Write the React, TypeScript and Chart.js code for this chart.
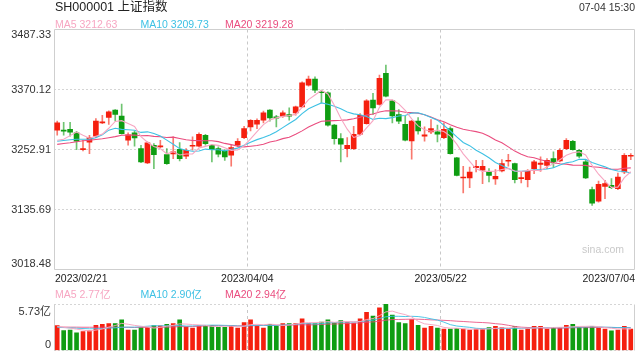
import React, { useEffect, useRef } from 'react';
import { Chart, registerables } from 'chart.js';

Chart.register(...registerables);

// ---------------- data ----------------
const dates = [
  '2023/02/21', '2023/02/22', '2023/02/23', '2023/02/24', '2023/02/27', '2023/02/28',
  '2023/03/01', '2023/03/02', '2023/03/03', '2023/03/06', '2023/03/07', '2023/03/08', '2023/03/09', '2023/03/10',
  '2023/03/13', '2023/03/14', '2023/03/15', '2023/03/16', '2023/03/17', '2023/03/20', '2023/03/21', '2023/03/22',
  '2023/03/23', '2023/03/24', '2023/03/27', '2023/03/28', '2023/03/29', '2023/03/30', '2023/03/31',
  '2023/04/03', '2023/04/04', '2023/04/06', '2023/04/07', '2023/04/10', '2023/04/11', '2023/04/12', '2023/04/13',
  '2023/04/14', '2023/04/17', '2023/04/18', '2023/04/19', '2023/04/20', '2023/04/21', '2023/04/24', '2023/04/25',
  '2023/04/26', '2023/04/27', '2023/04/28',
  '2023/05/04', '2023/05/05', '2023/05/08', '2023/05/09', '2023/05/10', '2023/05/11', '2023/05/12', '2023/05/15',
  '2023/05/16', '2023/05/17', '2023/05/18', '2023/05/19', '2023/05/22', '2023/05/23', '2023/05/24', '2023/05/25',
  '2023/05/26', '2023/05/29', '2023/05/30', '2023/05/31',
  '2023/06/01', '2023/06/02', '2023/06/05', '2023/06/06', '2023/06/07', '2023/06/08', '2023/06/09', '2023/06/12',
  '2023/06/13', '2023/06/14', '2023/06/15', '2023/06/16', '2023/06/19', '2023/06/20', '2023/06/21', '2023/06/26',
  '2023/06/27', '2023/06/28', '2023/06/29', '2023/06/30',
  '2023/07/03', '2023/07/04',
];

const opens = [
  3290.6, 3290.6, 3292.5, 3285.3, 3252.7, 3267.1, 3278.8, 3305.0, 3315.4, 3329.7,
  3318.0, 3271.0, 3285.3, 3254.7, 3226.6, 3261.2, 3257.9, 3242.9, 3244.3, 3253.4,
  3239.7, 3259.3, 3259.3, 3280.8, 3261.2, 3254.7, 3250.1, 3241.6, 3261.2, 3276.2,
  3297.1, 3302.3, 3310.1, 3329.7, 3316.7, 3318.0, 3321.3, 3324.5, 3336.2, 3378.7,
  3390.4, 3365.6, 3363.7, 3300.4, 3274.3, 3254.7, 3254.7, 3282.7, 3303.6, 3349.3,
  3340.8, 3401.5, 3348.0, 3321.3, 3302.3, 3269.7, 3308.2, 3278.8, 3287.3, 3287.3,
  3276.2, 3293.8, 3236.4, 3197.3, 3197.3, 3217.5, 3212.3, 3210.3, 3195.3, 3210.9,
  3229.9, 3225.3, 3195.9, 3194.0, 3215.5, 3224.0, 3222.0, 3235.1, 3230.5, 3254.7,
  3269.0, 3251.4, 3228.6, 3174.4, 3152.2, 3180.9, 3182.9, 3176.4, 3209.0, 3239.7,
];
const highs = [
  3308.2, 3306.2, 3306.2, 3288.6, 3271.0, 3280.8, 3313.4, 3319.9, 3328.4, 3331.0,
  3341.5, 3285.3, 3289.3, 3261.2, 3267.7, 3264.5, 3271.0, 3254.7, 3277.5, 3266.4,
  3254.7, 3277.5, 3285.3, 3282.7, 3263.2, 3257.9, 3252.7, 3261.2, 3274.3, 3298.4,
  3311.4, 3312.7, 3327.8, 3331.0, 3319.9, 3328.4, 3334.3, 3337.6, 3385.2, 3396.3,
  3395.0, 3368.9, 3365.6, 3302.3, 3284.0, 3276.2, 3298.4, 3323.2, 3350.6, 3362.4,
  3398.3, 3417.8, 3349.3, 3331.0, 3318.0, 3310.1, 3315.4, 3297.1, 3311.4, 3300.4,
  3304.9, 3297.1, 3237.7, 3220.1, 3218.8, 3231.8, 3231.8, 3215.5, 3213.6, 3233.1,
  3243.6, 3226.6, 3209.0, 3213.6, 3231.8, 3238.4, 3235.1, 3248.2, 3254.7, 3274.3,
  3271.0, 3252.7, 3233.1, 3179.6, 3191.4, 3192.7, 3195.9, 3207.0, 3244.9, 3244.9,
];
const lows = [
  3280.8, 3280.8, 3278.8, 3252.7, 3250.1, 3244.9, 3276.2, 3303.6, 3301.7, 3308.8,
  3282.7, 3261.2, 3259.3, 3227.0, 3225.3, 3215.5, 3256.6, 3224.0, 3235.1, 3230.5,
  3235.1, 3251.4, 3257.9, 3261.2, 3228.6, 3238.4, 3231.8, 3220.1, 3257.9, 3274.3,
  3289.3, 3293.8, 3305.0, 3308.2, 3297.1, 3315.4, 3310.1, 3319.9, 3334.9, 3376.7,
  3363.7, 3344.1, 3298.4, 3263.2, 3228.6, 3238.4, 3252.7, 3280.8, 3302.3, 3321.3,
  3339.5, 3355.8, 3305.0, 3303.6, 3269.7, 3233.8, 3282.7, 3269.0, 3284.0, 3267.7,
  3274.3, 3243.6, 3201.2, 3167.9, 3178.3, 3209.0, 3186.1, 3189.4, 3184.8, 3209.0,
  3220.1, 3187.4, 3187.4, 3179.6, 3205.7, 3210.3, 3215.5, 3217.5, 3228.6, 3252.7,
  3251.4, 3236.4, 3195.9, 3143.7, 3150.2, 3156.8, 3176.4, 3174.4, 3205.7, 3233.1,
];
const closes = [
  3304.9, 3288.6, 3286.6, 3269.0, 3254.7, 3276.2, 3308.2, 3306.5, 3326.5, 3321.3,
  3284.0, 3281.4, 3275.6, 3228.6, 3265.8, 3242.9, 3259.9, 3225.3, 3248.2, 3235.1,
  3251.4, 3261.2, 3282.7, 3264.5, 3252.7, 3243.6, 3238.4, 3256.6, 3269.0, 3293.8,
  3310.1, 3310.1, 3324.5, 3314.7, 3314.1, 3324.5, 3318.0, 3336.2, 3383.2, 3390.4,
  3368.9, 3363.7, 3300.4, 3274.3, 3263.2, 3261.2, 3282.7, 3319.9, 3348.0, 3334.3,
  3391.7, 3357.1, 3318.6, 3308.2, 3271.0, 3308.2, 3289.3, 3281.4, 3293.8, 3282.7,
  3292.5, 3244.9, 3202.5, 3199.2, 3209.0, 3220.1, 3220.1, 3202.5, 3200.5, 3225.3,
  3231.8, 3194.0, 3197.9, 3210.3, 3228.6, 3226.6, 3231.8, 3226.6, 3251.4, 3271.0,
  3252.7, 3239.7, 3197.3, 3148.3, 3184.8, 3186.1, 3178.3, 3199.2, 3241.6, 3241.6,
];

const ma5 = [
  3271.0, 3273.0, 3280.0, 3287.0, 3280.8, 3275.0, 3278.9, 3282.9, 3294.4, 3307.7,
  3309.3, 3303.9, 3297.8, 3278.2, 3267.1, 3258.9, 3254.6, 3244.5, 3248.4, 3242.3,
  3244.0, 3244.2, 3255.7, 3259.0, 3262.5, 3260.9, 3256.4, 3251.2, 3252.1, 3260.3,
  3273.6, 3287.9, 3301.5, 3310.6, 3314.7, 3317.6, 3319.2, 3321.5, 3335.2, 3350.5,
  3359.3, 3368.5, 3361.3, 3339.5, 3314.1, 3292.6, 3276.4, 3280.3, 3295.0, 3309.2,
  3335.3, 3350.2, 3349.9, 3342.0, 3329.3, 3312.6, 3299.1, 3291.6, 3288.7, 3291.1,
  3287.9, 3279.1, 3263.3, 3244.4, 3229.6, 3215.1, 3210.2, 3210.2, 3210.4, 3213.7,
  3216.0, 3210.8, 3209.9, 3211.9, 3212.5, 3211.5, 3219.0, 3224.8, 3233.0, 3241.5,
  3246.7, 3248.3, 3242.4, 3221.8, 3204.6, 3191.2, 3179.0, 3179.3, 3198.0, 3209.4,
];
const ma10 = [
  3269.0, 3270.5, 3272.0, 3273.0, 3273.0, 3273.0, 3276.0, 3281.5, 3290.7, 3294.3,
  3292.2, 3291.4, 3290.4, 3286.3, 3287.4, 3284.1, 3279.3, 3271.2, 3263.3, 3254.7,
  3251.5, 3249.4, 3250.1, 3253.7, 3252.4, 3252.5, 3250.3, 3253.5, 3255.6, 3261.4,
  3267.3, 3272.2, 3276.4, 3281.4, 3287.5, 3295.6, 3303.6, 3311.5, 3322.9, 3332.6,
  3338.5, 3343.9, 3341.4, 3337.4, 3332.3, 3326.0, 3322.5, 3320.8, 3317.3, 3311.7,
  3314.0, 3313.3, 3315.1, 3318.5, 3319.3, 3324.0, 3324.7, 3320.8, 3315.4, 3310.2,
  3300.3, 3289.1, 3277.5, 3266.6, 3260.4, 3251.5, 3244.7, 3236.8, 3227.4, 3221.7,
  3215.6, 3210.5, 3210.1, 3211.2, 3213.1, 3213.8, 3214.9, 3217.4, 3222.5, 3227.0,
  3229.1, 3233.7, 3233.6, 3227.4, 3223.1, 3219.0, 3213.7, 3210.9, 3209.9, 3207.0,
];
const ma20 = [
  3263.0, 3264.5, 3266.0, 3268.0, 3270.0, 3271.0, 3272.5, 3274.0, 3276.0, 3278.0,
  3280.6, 3281.0, 3281.2, 3279.7, 3280.2, 3278.6, 3277.7, 3276.4, 3277.0, 3274.5,
  3271.9, 3270.4, 3270.3, 3270.0, 3269.9, 3268.3, 3264.8, 3262.4, 3259.5, 3258.1,
  3259.4, 3260.8, 3263.3, 3267.6, 3270.0, 3274.1, 3277.0, 3282.5, 3289.3, 3297.0,
  3302.9, 3308.1, 3308.9, 3309.4, 3309.9, 3310.8, 3313.1, 3316.2, 3320.1, 3322.2,
  3326.3, 3328.6, 3328.3, 3328.0, 3325.8, 3325.0, 3323.6, 3320.8, 3316.4, 3311.0,
  3307.2, 3301.2, 3296.3, 3292.6, 3289.9, 3287.8, 3284.7, 3278.8, 3271.4, 3266.0,
  3258.0, 3249.8, 3243.8, 3238.9, 3236.8, 3232.7, 3229.8, 3227.1, 3225.0, 3224.4,
  3222.4, 3222.1, 3221.9, 3219.3, 3218.1, 3216.4, 3214.3, 3214.2, 3216.2, 3217.0,
];

// volume in 亿
const volumes = [
  3.06, 2.44, 2.52, 2.18, 2.33, 2.41, 3.09, 3.21, 3.32, 3.32,
  3.78, 2.52, 2.52, 2.83, 2.83, 3.06, 3.02, 3.21, 3.32, 3.78,
  2.90, 2.75, 3.02, 3.06, 3.09, 2.86, 2.86, 3.06, 2.75, 3.44,
  3.78, 3.06, 2.75, 3.21, 3.06, 3.32, 3.32, 3.32, 3.89, 3.32,
  3.32, 3.51, 3.78, 3.44, 3.67, 3.44, 3.36, 3.89, 4.70, 4.24,
  5.27, 5.70, 4.35, 3.44, 3.32, 3.82, 3.09, 2.75, 2.98, 2.75,
  2.63, 2.63, 2.71, 2.63, 2.52, 2.63, 2.63, 2.83, 2.98, 2.83,
  2.63, 2.94, 2.52, 2.75, 2.98, 2.98, 2.63, 2.83, 2.83, 3.09,
  3.21, 2.86, 2.86, 2.98, 2.75, 2.63, 2.41, 2.52, 2.98, 2.63,
];
const volMa5 = [
  2.95, 2.85, 2.75, 2.62, 2.51, 2.38, 2.51, 2.64, 2.87, 3.07,
  3.34, 3.23, 3.09, 2.99, 2.90, 2.75, 2.85, 2.99, 3.09, 3.28,
  3.25, 3.19, 3.15, 3.10, 2.96, 2.96, 2.98, 2.99, 2.92, 2.99,
  3.18, 3.22, 3.16, 3.25, 3.17, 3.08, 3.13, 3.25, 3.38, 3.43,
  3.43, 3.47, 3.56, 3.47, 3.54, 3.57, 3.54, 3.56, 3.81, 3.93,
  4.29, 4.76, 4.85, 4.60, 4.42, 4.13, 3.60, 3.28, 3.19, 3.08,
  2.84, 2.75, 2.74, 2.67, 2.62, 2.62, 2.62, 2.65, 2.72, 2.78,
  2.78, 2.84, 2.78, 2.73, 2.76, 2.83, 2.77, 2.83, 2.85, 2.87,
  2.92, 2.96, 2.97, 3.00, 2.93, 2.82, 2.73, 2.66, 2.66, 2.63,
];
const volMa10 = [
  2.85, 2.82, 2.78, 2.74, 2.70, 2.67, 2.68, 2.70, 2.75, 2.79,
  2.86, 2.87, 2.87, 2.93, 2.99, 3.05, 3.04, 3.04, 3.04, 3.09,
  3.00, 3.02, 3.07, 3.10, 3.12, 3.11, 3.09, 3.07, 3.01, 2.98,
  3.07, 3.10, 3.08, 3.09, 3.08, 3.13, 3.18, 3.21, 3.32, 3.30,
  3.26, 3.30, 3.41, 3.43, 3.49, 3.50, 3.51, 3.56, 3.64, 3.74,
  3.93, 4.15, 4.21, 4.21, 4.18, 4.21, 4.18, 4.07, 3.90, 3.75,
  3.49, 3.18, 3.01, 2.93, 2.85, 2.73, 2.69, 2.70, 2.70, 2.70,
  2.70, 2.73, 2.72, 2.73, 2.77, 2.81, 2.81, 2.81, 2.79, 2.82,
  2.88, 2.87, 2.90, 2.93, 2.90, 2.87, 2.85, 2.82, 2.83, 2.78,
];
const volMa20 = [
  2.88, 2.88, 2.87, 2.87, 2.86, 2.86, 2.86, 2.86, 2.86, 2.86,
  2.86, 2.85, 2.83, 2.84, 2.85, 2.86, 2.86, 2.87, 2.90, 2.94,
  2.93, 2.95, 2.97, 3.02, 3.06, 3.08, 3.07, 3.06, 3.03, 3.04,
  3.04, 3.06, 3.08, 3.10, 3.10, 3.12, 3.14, 3.14, 3.17, 3.14,
  3.17, 3.20, 3.25, 3.26, 3.29, 3.32, 3.35, 3.39, 3.48, 3.52,
  3.60, 3.73, 3.81, 3.82, 3.84, 3.86, 3.85, 3.82, 3.77, 3.75,
  3.71, 3.67, 3.61, 3.57, 3.52, 3.47, 3.44, 3.39, 3.30, 3.23,
  3.10, 2.96, 2.87, 2.83, 2.81, 2.77, 2.75, 2.76, 2.75, 2.76,
  2.79, 2.80, 2.81, 2.83, 2.84, 2.84, 2.83, 2.82, 2.81, 2.80,
];

const priceTicks = [3018.48, 3135.69, 3252.91, 3370.12, 3487.33];
const volTicks = [0, 5.73];
const shownDates = ['2023/02/21', '2023/04/04', '2023/05/22', '2023/07/04'];
const gridDates = ['2023/04/04', '2023/05/22'];

const titleText = 'SH000001 上证指数';
const timeText = '07-04 15:30';
const priceLegend = [
  { name: 'MA5', value: '3212.63' },
  { name: 'MA10', value: '3209.73' },
  { name: 'MA20', value: '3219.28' },
];
const volLegend = [
  { name: 'MA5', value: '2.77亿' },
  { name: 'MA10', value: '2.90亿' },
  { name: 'MA20', value: '2.94亿' },
];

// ---------------- styles ----------------
const FONT = 'Arial, "Liberation Sans", "Noto Sans CJK SC", sans-serif';
const UP = '#f51f0e';
const DOWN = '#0f9d12';
const UP_WICK = 'rgba(245,31,14,0.6)';
const DOWN_WICK = 'rgba(15,157,18,0.6)';
const MA_COLORS = ['#f7a6c2', '#3ec1e4', '#ea4d7f'];
const VOL_MA_COLORS = ['rgba(247,166,194,0.95)', 'rgba(62,193,228,0.9)', 'rgba(234,77,127,0.85)'];
const FRAME = '#cfcfcf';
const DOT_GRID = '#d5d5d5';
const DASH_GRID = '#c8c8c8';
const CLEAR = 'rgba(0,0,0,0)';

const isUp = closes.map((c, i) => c >= opens[i]);

const framePlugin = {
  id: 'frame',
  beforeDatasetsDraw(chart: any, _args: any, opts: any) {
    const { ctx, chartArea: a } = chart;
    const l = Math.floor(a.left) + 0.5;
    const r = Math.floor(a.right) + 0.5;
    const t = Math.floor(a.top) + 0.5;
    const b = Math.floor(a.bottom) + 0.5;
    ctx.save();
    ctx.strokeStyle = FRAME;
    ctx.lineWidth = 1;
    ctx.setLineDash([]);
    ctx.beginPath();
    if (opts.box) {
      ctx.rect(l, t, r - l, b - t);
    } else {
      ctx.moveTo(l, t); ctx.lineTo(l, b);
      ctx.moveTo(r, t); ctx.lineTo(r, b);
    }
    ctx.stroke();
    ctx.restore();
  },
};

const labelNudge = {
  id: 'labelNudge',
  beforeDraw(chart: any, _args: any, opts: any) {
    try {
      const ys = chart.scales.y;
      if (ys) {
        const items = ys.getLabelItems();
        let top: any = null;
        let bot: any = null;
        for (const it of items) {
          const ty = it.options.translation[1];
          if (!top || ty < top.options.translation[1]) top = it;
          if (!bot || ty > bot.options.translation[1]) bot = it;
        }
        if (top && !top._n) { top.options.translation[1] += opts.yTop; top._n = true; }
        if (bot && !bot._n) { bot.options.translation[1] -= opts.yBottom; bot._n = true; }
      }
      const xs = chart.scales.x;
      if (xs && opts.xLabels) {
        const a = chart.chartArea;
        const step = (a.right - a.left) / dates.length;
        for (const it of xs.getLabelItems()) {
          if (!it.label || it._n) continue;
          it._n = true;
          if (it.label === shownDates[0]) {
            it.options.translation[0] = a.left + 1;
            it.options.textAlign = 'left';
          } else if (it.label === shownDates[shownDates.length - 1]) {
            it.options.translation[0] = a.right + 1;
            it.options.textAlign = 'right';
          } else {
            it.options.translation[0] -= step / 2;
            it.options.textAlign = 'center';
          }
        }
      }
    } catch (e) {
      /* ignore */
    }
  },
};

const xGridColor = (ctx: any) =>
  ctx && ctx.index !== undefined && gridDates.includes(dates[ctx.index]) ? DASH_GRID : CLEAR;

function priceConfig(): any {
  const lineDs = (label: string, data: number[], color: string) => ({
    type: 'line', label, data, borderColor: color, backgroundColor: color,
    borderWidth: 1.1, pointRadius: 0, tension: 0, order: 0,
  });
  return {
    type: 'bar',
    data: {
      labels: dates,
      datasets: [
        lineDs('MA5', ma5, MA_COLORS[0]),
        lineDs('MA10', ma10, MA_COLORS[1]),
        lineDs('MA20', ma20, MA_COLORS[2]),
        {
          type: 'bar', label: 'body', data: opens.map((o, i) => [o, closes[i]]),
          backgroundColor: isUp.map((u) => (u ? UP : DOWN)),
          barThickness: 5, minBarLength: 1, grouped: false, order: 2, borderWidth: 0,
        },
        {
          type: 'bar', label: 'wick', data: lows.map((l, i) => [l, highs[i]]),
          backgroundColor: isUp.map((u) => (u ? UP_WICK : DOWN_WICK)),
          barThickness: 1, grouped: false, order: 3, borderWidth: 0,
        },
      ],
    },
    options: {
      animation: false, responsive: false, events: [],
      layout: { padding: { top: 29.5, right: 6, left: 0, bottom: 0 } },
      plugins: {
        legend: { display: false }, tooltip: { enabled: false },
        frame: { box: true },
        labelNudge: { yTop: 5, yBottom: 6, xLabels: true },
      },
      scales: {
        x: {
          type: 'category', offset: true,
          grid: { offset: true, drawTicks: false, color: xGridColor, lineWidth: 1 },
          border: { display: false, dash: [3, 3] },
          ticks: {
            autoSkip: false, maxRotation: 0, minRotation: 0, padding: 3, color: '#222',
            align: 'inner',
            font: { family: FONT, size: 10.5 },
            callback: (_v: any, i: number) => (shownDates.includes(dates[i]) ? dates[i] : ''),
          },
          afterFit: (s: any) => { s.height = 20.5; },
        },
        y: {
          type: 'linear', min: priceTicks[0], max: priceTicks[priceTicks.length - 1],
          afterBuildTicks: (s: any) => { s.ticks = priceTicks.map((v) => ({ value: v })); },
          grid: {
            drawTicks: false,
            color: (c: any) => (c.index === 0 || c.index === priceTicks.length - 1 ? CLEAR : DOT_GRID),
          },
          border: { display: false, dash: [2, 2] },
          ticks: {
            padding: 3, color: '#333', font: { family: FONT, size: 11 },
            callback: (v: any) => Number(v).toFixed(2),
          },
          afterFit: (s: any) => { s.width = 54; },
        },
      },
    },
    plugins: [framePlugin, labelNudge],
  };
}

function volumeConfig(): any {
  const lineDs = (label: string, data: number[], color: string) => ({
    type: 'line', label, data, borderColor: color, backgroundColor: color,
    borderWidth: 1, pointRadius: 0, tension: 0, order: 0,
  });
  return {
    type: 'bar',
    data: {
      labels: dates,
      datasets: [
        lineDs('MA5', volMa5, VOL_MA_COLORS[0]),
        lineDs('MA10', volMa10, VOL_MA_COLORS[1]),
        lineDs('MA20', volMa20, VOL_MA_COLORS[2]),
        {
          type: 'bar', label: 'vol', data: volumes,
          backgroundColor: isUp.map((u) => (u ? UP : DOWN)),
          barThickness: 4, order: 2, borderWidth: 0,
        },
      ],
    },
    options: {
      animation: false, responsive: false, events: [],
      layout: { padding: { top: 14, right: 6, left: 0, bottom: 6 } },
      plugins: {
        legend: { display: false }, tooltip: { enabled: false },
        frame: { box: false },
        labelNudge: { yTop: 7.5, yBottom: 5.5, xLabels: false },
      },
      scales: {
        x: {
          type: 'category', offset: true,
          grid: { offset: true, drawTicks: false, color: xGridColor, lineWidth: 1 },
          border: { display: false, dash: [3, 3] },
          ticks: { display: false },
          afterFit: (s: any) => { s.height = 0; },
        },
        y: {
          type: 'linear', min: volTicks[0], max: volTicks[volTicks.length - 1],
          afterBuildTicks: (s: any) => { s.ticks = volTicks.map((v) => ({ value: v })); },
          grid: { drawTicks: false, color: DOT_GRID },
          border: { display: false, dash: [2, 2] },
          ticks: {
            padding: 3, color: '#333', font: { family: FONT, size: 11 },
            callback: (v: any) => (Number(v) === 0 ? '0' : Number(v).toFixed(2) + '亿'),
          },
          afterFit: (s: any) => { s.width = 54; },
        },
      },
    },
    plugins: [framePlugin, labelNudge],
  };
}

function Txt(props: { text: string; x: number; cy: number; size: number; color: string; right?: boolean }) {
  const { text, x, cy, size, color, right } = props;
  const style: any = {
    position: 'absolute', top: cy - size / 2, fontSize: size, lineHeight: `${size}px`,
    color, whiteSpace: 'nowrap', fontFamily: FONT,
  };
  if (right) style.right = 640 - x; else style.left = x;
  return <div style={style}>{text}</div>;
}

const legendX = [55, 140.5, 225];

export default function App() {
  const priceRef = useRef<HTMLCanvasElement>(null);
  const volRef = useRef<HTMLCanvasElement>(null);

  useEffect(() => {
    const c1 = new Chart(priceRef.current as HTMLCanvasElement, priceConfig());
    const c2 = new Chart(volRef.current as HTMLCanvasElement, volumeConfig());
    return () => {
      c1.destroy();
      c2.destroy();
    };
  }, []);

  return (
    <div style={{ position: 'absolute', left: 0, top: 0, width: 640, height: 360, background: '#fff', overflow: 'hidden' }}>
      <canvas ref={priceRef} width={640} height={290} style={{ position: 'absolute', left: 0, top: 0, width: 640, height: 290 }} />
      <canvas ref={volRef} width={640} height={70} style={{ position: 'absolute', left: 0, top: 290, width: 640, height: 70 }} />
      <Txt text={titleText} x={55} cy={7.5} size={12.5} color="#222" />
      <Txt text={timeText} x={635} cy={7.5} size={10.5} color="#333" right />
      {priceLegend.map((l, i) => (
        <Txt key={'p' + i} text={`${l.name} ${l.value}`} x={legendX[i]} cy={24} size={10.5} color={MA_COLORS[i]} />
      ))}
      {volLegend.map((l, i) => (
        <Txt key={'v' + i} text={`${l.name} ${l.value}`} x={legendX[i]} cy={294.5} size={10.5} color={MA_COLORS[i]} />
      ))}
      <Txt text="sina.com" x={582} cy={249.5} size={10.5} color="#c9c9c9" />
    </div>
  );
}
